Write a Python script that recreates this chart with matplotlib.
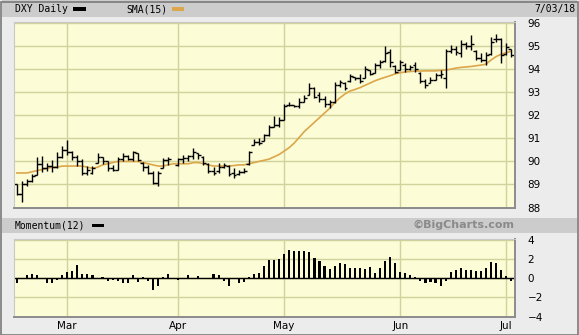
import numpy as np
import pandas as pd
import matplotlib
matplotlib.use("Agg")
import matplotlib.pyplot as plt
from matplotlib.patches import Rectangle

# trading days shown on the chart
dates = pd.bdate_range("2018-02-15", "2018-07-03")

# daily OHLC (None = no bar that day)
opens = [89.0, 88.6, 89.0, 89.15, 89.4, 89.9, 89.7, 89.8, 89.75, 90.2,
         90.5, 90.4, 90.2, 90.0, 89.5, 89.5, 89.95, 90.2, 90.0, 89.7,
         89.65, 90.1, 90.25, 90.1, 90.35, 89.95, 89.75, 89.5, 89.05, 89.7,
         90.05, None, 89.85, 90.1, 90.15, 90.25, 90.35, 90.2, 89.9, 89.6,
         89.6, 89.75, 89.8, 89.5, 89.45, 89.55, 89.9, 90.7, 90.85, 90.9,
         91.15, 91.5, 91.6, 91.8, 92.45, 92.45, 92.4, 92.6, 92.9, 93.2,
         92.9, 92.7, 92.5, 92.6, 93.3, 93.4, 93.5, 93.65, 93.6, 93.6,
         93.95, 93.85, 94.2, 94.35, 94.75, 94.15, 93.97, 94.2, 94.0, 94.2,
         93.85, 93.5, 93.4, 93.55, 93.75, 93.6, 94.8, 94.9, 94.7, 95.1,
         95.0, 94.8, 94.5, 94.4, 94.65, 95.3, 95.3, 94.65, 94.9]
highs = [89.0, 89.15, 89.25, 89.45, 90.2, 90.25, 89.95, 90.05, 90.4, 90.65,
         90.95, 90.45, 90.3, 90.1, 89.8, 89.8, 90.35, 90.2, 90.0, 89.85,
         90.2, 90.35, 90.3, 90.45, 90.35, 89.97, 89.85, 89.57, 89.6, 90.15,
         90.2, None, 90.15, 90.26, 90.3, 90.58, 90.36, 90.22, 89.93, 89.78,
         89.93, 89.93, 89.85, 89.7, 89.62, 89.7, 90.45, 90.97, 91.03, 91.2,
         91.6, 91.98, 91.94, 92.5, 92.56, 92.45, 92.74, 92.88, 93.4, 93.25,
         93.0, 92.86, 92.67, 93.46, 93.54, 93.46, 93.8, 93.68, 93.8, 94.15,
         93.97, 94.26, 94.4, 95.0, 94.9, 94.2, 94.4, 94.26, 94.2, 94.33,
         93.9, 93.56, 93.68, 93.83, 93.97, 94.9, 95.06, 95.03, 95.28, 95.2,
         95.5, 94.84, 94.7, 94.77, 95.38, 95.52, 95.35, 95.13, 94.9]
lows = [88.55, 88.25, 88.95, 89.1, 89.4, 89.55, 89.6, 89.55, 89.7, 90.15,
        90.3, 90.05, 89.8, 89.4, 89.4, 89.45, 89.95, 89.9, 89.6, 89.6,
        89.65, 90.0, 90.05, 90.0, 90.0, 89.6, 89.45, 89.0, 88.95, 89.7,
        89.85, None, 89.8, 89.95, 90.0, 90.1, 90.1, 89.85, 89.5, 89.42,
        89.5, 89.7, 89.35, 89.26, 89.4, 89.48, 89.85, 90.7, 90.7, 90.9,
        91.1, 91.5, 91.5, 91.8, 92.4, 92.38, 92.33, 92.56, 92.9, 92.74,
        92.56, 92.38, 92.3, 92.55, 93.25, 93.1, 93.45, 93.54, 93.4, 93.6,
        93.75, 93.83, 94.05, 94.33, 94.1, 93.83, 93.97, 93.9, 93.97, 93.9,
        93.4, 93.17, 93.4, 93.54, 93.6, 93.17, 94.7, 94.62, 94.55, 94.9,
        94.84, 94.4, 94.33, 94.2, 94.62, 95.2, 94.26, 94.62, 94.55]
closes = [88.6, 89.0, 89.15, 89.35, 89.9, 89.7, 89.8, 89.75, 90.2, 90.5,
          90.4, 90.2, 90.0, 89.5, 89.65, 89.7, 90.2, 90.0, 89.7, 89.65,
          90.1, 90.25, 90.1, 90.4, 90.05, 89.75, 89.5, 89.05, 89.5, 90.05,
          90.1, None, 90.1, 90.15, 90.25, 90.4, 90.3, 89.95, 89.6, 89.5,
          89.75, 89.85, 89.45, 89.4, 89.55, 89.6, 90.4, 90.85, 90.8, 91.15,
          91.5, 91.6, 91.8, 92.4, 92.45, 92.4, 92.6, 92.75, 93.2, 92.8,
          92.7, 92.5, 92.6, 93.3, 93.45, 93.2, 93.7, 93.6, 93.5, 94.0,
          93.8, 94.2, 94.3, 94.7, 94.3, 93.9, 94.3, 94.0, 94.1, 94.0,
          93.5, 93.3, 93.55, 93.75, 93.8, 94.8, 94.9, 94.75, 95.1, 95.0,
          95.1, 94.5, 94.4, 94.6, 95.2, 95.3, 94.6, 94.95, 94.6]

# 15-day simple moving average
sma15 = [89.5, 89.5, 89.5, 89.55, 89.6, 89.65, 89.7, 89.75, 89.75, 89.8, 89.8,
         89.8, 89.8, 89.8, 89.75, 89.7, 89.75, 89.85, 89.9, 89.95, 90.0,
         90.0, 90.0, 90.0, 90.0, 89.95, 89.9, 89.85, 89.8, 89.8, 89.85, 89.9,
         89.9, 89.9, 89.9, 89.95, 89.95, 89.9, 89.85, 89.8, 89.8, 89.8, 89.8,
         89.82, 89.85, 89.85, 89.9, 89.95, 90.0, 90.05, 90.1, 90.2, 90.3,
         90.45, 90.6, 90.8, 91.05, 91.3, 91.5, 91.7, 91.9, 92.1, 92.3,
         92.55, 92.75, 92.92, 93.05, 93.12, 93.2, 93.3, 93.4, 93.5, 93.58,
         93.65, 93.72, 93.8, 93.85, 93.88, 93.9, 93.92, 93.92, 93.93, 93.93,
         93.93, 93.95, 93.97, 94.0, 94.05, 94.08, 94.1, 94.12, 94.15, 94.18,
         94.22, 94.4, 94.55, 94.65, 94.72, 94.78]

# Momentum(12) histogram
momentum = [-0.5, 0, 0.35, 0.45, 0.35, 0, -0.45, -0.45, -0.17, 0.35,
            0.6, 0.75, 1.4, 0.45, 0.45, 0.35, 0, 0.1, -0.25, -0.17,
            -0.25, -0.45, -0.5, 0.35, -0.35, 0.1, -0.25, -1.2, -0.8, 0.1,
            0.45, 0, -0.17, 0, 0.35, 0, 0.25, 0, 0, 0.45,
            0.35, -0.25, -0.8, 0, -0.45, -0.35, 0.1, 0.45, 0.5, 1.3,
            1.9, 1.9, 2.0, 2.5, 3.0, 2.85, 2.85, 2.8, 2.7, 2.1,
            1.8, 1.3, 0.95, 1.3, 1.55, 1.45, 1.05, 1.1, 1.1, 0.95,
            1.2, 0.5, 1.05, 1.75, 2.25, 1.55, 0.7, 0.5, 0.35, 0.1,
            -0.25, -0.45, -0.35, -0.45, -0.8, -0.25, 0.6, 0.85, 1.05, 0.85,
            0.85, 0.8, 0.8, 1.05, 1.65, 1.55, 0.85, 0.25, -0.25]

price_ticks = [88, 89, 90, 91, 92, 93, 94, 95, 96]
mom_ticks = [-4, -2, 0, 2, 4]

W, H = 579, 335
BG = "#ececec"
BAND = "#cccccc"
PANEL = "#fcfcd6"
GRID = "#d2d29c"
SMA_COLOR = "#dca64a"
MONO = "DejaVu Sans Mono"


def px_rect(x0, y0, x1, y1):
    # pixel box (top-left origin) -> figure fraction [l, b, w, h]
    return [x0 / W, 1 - y1 / H, (x1 - x0) / W, (y1 - y0) / H]


def style_panel(ax, yticks, ylim, xpos):
    ax.set_facecolor(PANEL)
    ax.set_xlim(-0.55, 98.75)
    ax.set_ylim(*ylim)
    ax.set_xticks(xpos)
    ax.set_yticks(yticks)
    ax.grid(True, color=GRID, lw=1.0)
    ax.set_axisbelow(True)
    ax.yaxis.tick_right()
    ax.tick_params(axis="y", length=0, pad=9, labelsize=7.5)
    ax.tick_params(axis="x", length=0)
    for s in ["left", "top"]:
        ax.spines[s].set_color("#c8c8c8")
        ax.spines[s].set_linewidth(0.8)
    for s in ["right", "bottom"]:
        ax.spines[s].set_color("#8c8c8c")
        ax.spines[s].set_linewidth(1.4)


fig = plt.figure(figsize=(W / 100, H / 100), dpi=100, facecolor=BG)

# header bands
for y0, y1 in [(0, 17), (218, 233)]:
    l, b, w, h = px_rect(2, y0, W - 2, y1)
    fig.patches.append(Rectangle((l, b), w, h, transform=fig.transFigure,
                                 facecolor=BAND, edgecolor="none", zorder=0))
# outer frame
fig.patches.append(Rectangle((0.5 / W, 0.5 / H), 1 - 2 / W, 1 - 2 / H,
                             transform=fig.transFigure, facecolor="none",
                             edgecolor="#7a7a7a", lw=1.2, zorder=5))

x = np.arange(len(dates))
month_pos = [i for i in range(1, len(dates)) if dates[i].month != dates[i - 1].month]
month_lab = [dates[i].strftime("%b") for i in month_pos]

# price panel
ax = fig.add_axes(px_rect(14, 22, 515, 208))
style_panel(ax, price_ticks, (87.98, 96.05), month_pos)
ax.set_xticklabels([])

ok = [i for i in x if highs[i] is not None]
xo = np.array(ok, dtype=float)
ax.vlines(xo, [lows[i] for i in ok], [highs[i] for i in ok], color="black", lw=1.0)
ax.hlines([opens[i] for i in ok], xo - 0.55, xo, color="black", lw=1.0)
ax.hlines([closes[i] for i in ok], xo, xo + 0.55, color="black", lw=1.0)
ax.plot(x, sma15, color=SMA_COLOR, lw=1.2, zorder=1)

# momentum panel
ax2 = fig.add_axes(px_rect(14, 239, 515, 317))
style_panel(ax2, mom_ticks, (-4.05, 4.1), month_pos)
ax2.set_yticklabels([str(t).replace("-", "\u2212") for t in mom_ticks])
ax2.bar(x, momentum, width=0.42, color="black", zorder=3)
ax2.axhline(0, color="black", lw=1.0, zorder=2)
ax2.set_xticklabels(month_lab, fontsize=7.5)
ax2.tick_params(axis="x", pad=3)

# header texts
fig.text(15 / W, 1 - 9 / H, "DXY Daily", family=MONO, fontsize=7, va="center")
fig.patches.append(Rectangle((73 / W, 1 - 11 / H), 13 / W, 3.5 / H,
                             transform=fig.transFigure, facecolor="black"))
fig.text(126 / W, 1 - 9 / H, "SMA(15)", family=MONO, fontsize=7, va="center")
fig.patches.append(Rectangle((172 / W, 1 - 11 / H), 12 / W, 3.5 / H,
                             transform=fig.transFigure, facecolor=SMA_COLOR))
fig.text(575 / W, 1 - 9 / H, "7/03/18", family=MONO, fontsize=7,
         va="center", ha="right")

fig.text(15 / W, 1 - 225 / H, "Momentum(12)", family=MONO, fontsize=7, va="center")
fig.patches.append(Rectangle((92 / W, 1 - 227 / H), 12 / W, 3.5 / H,
                             transform=fig.transFigure, facecolor="black"))
fig.text(515 / W, 1 - 225 / H, "\u00a9BigCharts.com", fontsize=8, weight="bold",
         color="#8a8a8a", va="center", ha="right")

fig.savefig("out.png", dpi=100, facecolor=BG)
